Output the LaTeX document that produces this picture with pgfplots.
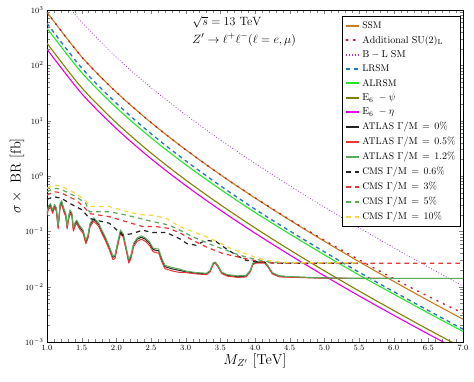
\documentclass[border=0pt]{standalone}
\usepackage{pgfplots}
\pgfplotsset{compat=1.18}
\definecolor{cSSM}{RGB}{200,125,30}
\definecolor{cSU}{RGB}{190,30,50}
\definecolor{cBL}{RGB}{150,60,180}
\definecolor{cLR}{RGB}{30,120,190}
\definecolor{cALR}{RGB}{40,230,40}
\definecolor{cPsi}{RGB}{128,128,0}
\definecolor{cEta}{RGB}{230,0,230}
\definecolor{cBlk}{RGB}{35,35,35}
\definecolor{cRed}{RGB}{230,55,55}
\definecolor{cGrn}{RGB}{90,170,90}
\definecolor{cYel}{RGB}{245,215,70}
\begin{document}
\begin{tikzpicture}
\path[use as bounding box] (-47pt,-40pt) rectangle (427pt,342pt);
\begin{axis}[
  at={(0,0)}, anchor=south west,
  scale only axis, width=416pt, height=332pt,
  ymode=log, xmin=1, xmax=7, ymin=1e-3, ymax=1e3,
  xtick={1,1.5,...,7}, minor x tick num=4,
  ytick={1e-3,1e-2,1e-1,1,10,100,1000},
  xticklabel style={/pgf/number format/.cd,fixed,fixed zerofill,precision=1},
  tick label style={font=\footnotesize},
  xlabel={$M_{Z'}\ [\mathrm{TeV}]$},
  ylabel={$\sigma\times\ \mathrm{BR}\ [\mathrm{fb}]$},
  label style={font=\Large},
  xlabel style={yshift=4pt},
  ylabel style={yshift=-6pt},
  legend cell align=left,
  legend style={at={(0.995,0.982)}, anchor=north east, line width=0.8pt, font=\fontsize{9.6}{11.5}\selectfont, row sep=2pt, inner sep=3pt},
  legend image code/.code={\draw[#1, line width=2pt, draw=.] (0cm,0cm) -- (0.45cm,0cm);},
]
% SSM
\addplot[color=cSSM, line width=1.1pt, smooth] coordinates {
(1.0,912) (1.5,142.6) (2.0,32.7) (2.5,9.25) (3.0,2.99) (3.5,1.057) (4.0,0.400) (4.5,0.160) (5.0,0.0661) (5.5,0.0283) (6.0,0.01247) (6.5,0.00561) (7.0,0.00258)};
\addlegendentry{SSM}
% Additional SU(2)L
\addplot[color=cSU, line width=1.4pt, dash pattern=on 1.2pt off 6pt, line cap=round, smooth] coordinates {
(1.0,912) (1.5,142.6) (2.0,32.7) (2.5,9.25) (3.0,2.99) (3.5,1.057) (4.0,0.405) (4.5,0.163) (5.0,0.0692) (5.5,0.0307) (6.0,0.0140) (6.5,0.00667) (7.0,0.00332)};
\addlegendentry{$\mathrm{Additional\ SU(2)_L}$}
% B-L SM
\addplot[color=cBL, line width=0.8pt, dash pattern=on 0.8pt off 2pt, smooth] coordinates {
(1.3,1191) (1.5,606.7) (2.0,140) (2.5,39.6) (3.0,12.8) (3.5,4.49) (4.0,1.69) (4.5,0.667) (5.0,0.274) (5.5,0.1164) (6.0,0.0507) (6.5,0.0226) (7.0,0.01026)};
\addlegendentry{$\mathrm{B-L\ SM}$}
% LRSM
\addplot[color=cLR, line width=1.3pt, dash pattern=on 4pt off 3.5pt, smooth] coordinates {
(1.0,575.4) (1.5,89.9) (2.0,20.65) (2.5,5.83) (3.0,1.884) (3.5,0.667) (4.0,0.252) (4.5,0.1019) (5.0,0.0427) (5.5,0.01828) (6.0,0.00815) (6.5,0.00371) (7.0,0.00170)};
\addlegendentry{LRSM}
% ALRSM
\addplot[color=cALR, line width=1.1pt, smooth] coordinates {
(1.0,467.7) (1.5,73.96) (2.0,17.18) (2.5,4.91) (3.0,1.603) (3.5,0.574) (4.0,0.2198) (4.5,0.0897) (5.0,0.0376) (5.5,0.01629) (6.0,0.00735) (6.5,0.00334) (7.0,0.00155)};
\addlegendentry{ALRSM}
% E6 psi
\addplot[color=cPsi, line width=1.1pt, smooth] coordinates {
(1.0,251.2) (1.5,39.5) (2.0,9.16) (2.5,2.606) (3.0,0.847) (3.5,0.303) (4.0,0.1153) (4.5,0.0463) (5.0,0.01936) (5.5,0.00836) (6.0,0.00371) (6.5,0.00168) (7.0,0.000778)};
\addlegendentry{$\mathrm{E_6}\ -\psi$}
% E6 eta
\addplot[color=cEta, line width=1.1pt, smooth] coordinates {
(1.0,195) (1.5,30.9) (2.0,7.19) (2.5,2.056) (3.0,0.673) (3.5,0.2415) (4.0,0.0927) (4.5,0.0375) (5.0,0.01574) (5.5,0.00682) (6.0,0.00305) (6.5,0.00139) (7.0,0.000647)};
\addlegendentry{$\mathrm{E_6}\ -\eta$}
% ATLAS 0%
\addplot[color=cBlk, line width=1.0pt, line join=round] coordinates {
(1.00,0.21) (1.02,0.27) (1.05,0.30) (1.08,0.23) (1.11,0.29) (1.135,0.25) (1.16,0.12) (1.19,0.30) (1.21,0.34) (1.24,0.25) (1.27,0.20) (1.29,0.12) (1.31,0.17) (1.33,0.23) (1.36,0.20) (1.38,0.11) (1.41,0.14) (1.43,0.15) (1.47,0.12) (1.52,0.10) (1.56,0.065) (1.59,0.08) (1.62,0.13) (1.67,0.165) (1.71,0.15) (1.75,0.13) (1.79,0.10) (1.84,0.075) (1.90,0.05) (1.95,0.034) (1.98,0.035) (2.02,0.06) (2.06,0.10) (2.10,0.085) (2.14,0.05) (2.18,0.029) (2.21,0.035) (2.25,0.058) (2.30,0.072) (2.36,0.078) (2.42,0.072) (2.48,0.060) (2.53,0.047) (2.58,0.045) (2.61,0.045) (2.65,0.032) (2.70,0.023) (2.80,0.021) (2.90,0.0198) (3.00,0.0186) (3.15,0.0175) (3.30,0.017) (3.35,0.019) (3.40,0.0265) (3.43,0.027) (3.47,0.023) (3.52,0.0178) (3.60,0.016) (3.75,0.0152) (3.87,0.0155) (3.93,0.019) (3.97,0.026) (4.02,0.0275) (4.14,0.0275) (4.19,0.023) (4.25,0.0175) (4.35,0.0155) (4.50,0.015) (4.84,0.0145) (5.20,0.0142) (6.00,0.0141)};
\addlegendentry{ATLAS $\Gamma/\mathrm{M}\,=\,0\%$}
% ATLAS 0.5%
\addplot[color=cRed, line width=1.0pt, line join=round] coordinates {
(1.00,0.193) (1.02,0.248) (1.05,0.276) (1.08,0.212) (1.11,0.267) (1.135,0.23) (1.16,0.11) (1.19,0.276) (1.21,0.313) (1.24,0.23) (1.27,0.184) (1.29,0.11) (1.31,0.156) (1.33,0.212) (1.36,0.184) (1.38,0.101) (1.41,0.129) (1.43,0.138) (1.47,0.11) (1.52,0.092) (1.56,0.060) (1.59,0.074) (1.62,0.12) (1.67,0.152) (1.71,0.138) (1.75,0.12) (1.79,0.092) (1.84,0.069) (1.90,0.046) (1.95,0.031) (1.98,0.032) (2.02,0.055) (2.06,0.092) (2.10,0.078) (2.14,0.046) (2.18,0.0267) (2.21,0.032) (2.25,0.053) (2.30,0.066) (2.36,0.072) (2.42,0.066) (2.48,0.055) (2.53,0.043) (2.58,0.041) (2.61,0.041) (2.65,0.029) (2.70,0.0212) (2.80,0.0193) (2.90,0.0182) (3.00,0.018) (3.15,0.017) (3.30,0.0165) (3.35,0.0184) (3.40,0.0257) (3.43,0.0262) (3.47,0.0223) (3.52,0.0173) (3.60,0.0155) (3.75,0.0147) (3.87,0.015) (3.93,0.0184) (3.97,0.0252) (4.02,0.0267) (4.14,0.0267) (4.19,0.0223) (4.25,0.017) (4.35,0.015) (4.50,0.0148) (4.84,0.0144) (5.20,0.0141) (6.00,0.0141)};
\addlegendentry{ATLAS $\Gamma/\mathrm{M}\,=\,0.5\%$}
% ATLAS 1.2%
\addplot[color=cGrn, line width=1.0pt, line join=round] coordinates {
(1.00,0.223) (1.02,0.286) (1.05,0.318) (1.08,0.244) (1.11,0.307) (1.135,0.265) (1.16,0.127) (1.19,0.318) (1.21,0.36) (1.24,0.265) (1.27,0.212) (1.29,0.127) (1.31,0.18) (1.33,0.244) (1.36,0.212) (1.38,0.117) (1.41,0.148) (1.43,0.159) (1.47,0.127) (1.52,0.106) (1.56,0.069) (1.59,0.085) (1.62,0.138) (1.67,0.175) (1.71,0.159) (1.75,0.138) (1.79,0.106) (1.84,0.080) (1.90,0.053) (1.95,0.036) (1.98,0.037) (2.02,0.064) (2.06,0.106) (2.10,0.09) (2.14,0.053) (2.18,0.031) (2.21,0.037) (2.25,0.061) (2.30,0.076) (2.36,0.083) (2.42,0.076) (2.48,0.064) (2.53,0.050) (2.58,0.048) (2.61,0.048) (2.65,0.034) (2.70,0.0244) (2.80,0.0223) (2.90,0.021) (3.00,0.0192) (3.15,0.018) (3.30,0.0175) (3.35,0.0196) (3.40,0.0273) (3.43,0.0278) (3.47,0.0237) (3.52,0.0183) (3.60,0.0165) (3.75,0.0157) (3.87,0.016) (3.93,0.0196) (3.97,0.0268) (4.02,0.0283) (4.14,0.0283) (4.19,0.0237) (4.25,0.018) (4.35,0.0157) (4.50,0.0152) (4.84,0.0146) (5.20,0.0142) (7.00,0.0141)};
\addlegendentry{ATLAS $\Gamma/\mathrm{M}\,=\,1.2\%$}
% CMS 0.6%
\addplot[color=cBlk, line width=1.2pt, dash pattern=on 4.5pt off 4pt] coordinates {
(1.00,0.38) (1.10,0.42) (1.20,0.40) (1.37,0.30) (1.51,0.243) (1.61,0.172) (1.70,0.160) (1.90,0.140) (2.09,0.085) (2.23,0.091) (2.38,0.105) (2.52,0.095) (2.72,0.095) (2.91,0.074) (3.02,0.060) (3.15,0.056) (3.29,0.069) (3.44,0.065) (3.58,0.049) (3.73,0.037) (3.87,0.030) (4.06,0.028) (4.30,0.0265) (5.48,0.0265)};
\addlegendentry{CMS $\Gamma/\mathrm{M}\,=\,0.6\%$}
% CMS 3%
\addplot[color=cRed, line width=1.2pt, dash pattern=on 4.5pt off 4pt] coordinates {
(1.00,0.45) (1.10,0.52) (1.20,0.50) (1.41,0.37) (1.53,0.28) (1.61,0.21) (1.90,0.184) (2.14,0.150) (2.38,0.122) (2.57,0.122) (2.76,0.113) (2.93,0.092) (3.10,0.069) (3.30,0.052) (3.53,0.040) (3.73,0.035) (3.87,0.032) (4.10,0.028) (4.30,0.0265) (7.00,0.0265)};
\addlegendentry{CMS $\Gamma/\mathrm{M}\,=\,3\%$}
% CMS 5%
\addplot[color=cGrn, line width=1.2pt, dash pattern=on 4.5pt off 4pt] coordinates {
(1.00,0.52) (1.10,0.60) (1.20,0.58) (1.30,0.50) (1.41,0.43) (1.56,0.32) (1.61,0.226) (1.90,0.226) (2.14,0.197) (2.33,0.172) (2.52,0.150) (2.76,0.130) (2.91,0.106) (3.10,0.080) (3.39,0.056) (3.58,0.0457) (3.78,0.037) (3.97,0.032) (4.20,0.028) (4.40,0.027) (5.50,0.027)};
\addlegendentry{CMS $\Gamma/\mathrm{M}\,=\,5\%$}
% CMS 10%
\addplot[color=cYel, line width=1.2pt, dash pattern=on 4.5pt off 4pt] coordinates {
(1.00,0.60) (1.10,0.68) (1.20,0.66) (1.30,0.57) (1.41,0.49) (1.56,0.35) (1.63,0.28) (1.90,0.28) (2.09,0.24) (2.33,0.20) (2.52,0.195) (2.72,0.172) (2.91,0.122) (3.10,0.099) (3.30,0.080) (3.49,0.062) (3.65,0.049) (3.85,0.040) (4.00,0.034) (4.16,0.030) (4.35,0.028) (4.60,0.027) (5.50,0.027)};
\addlegendentry{CMS $\Gamma/\mathrm{M}\,=\,10\%$}
\node[anchor=west, inner sep=1pt, font=\fontsize{12.5}{14}\selectfont] at (axis cs:3.08,600) {$\sqrt{s}=13\ \mathrm{TeV}$};
\node[anchor=west, inner sep=1pt, font=\fontsize{12.5}{14}\selectfont] at (axis cs:3.08,290) {$Z'\rightarrow \ell^+\ell^-(\ell = e,\mu)$};
\end{axis}
\end{tikzpicture}
\end{document}
